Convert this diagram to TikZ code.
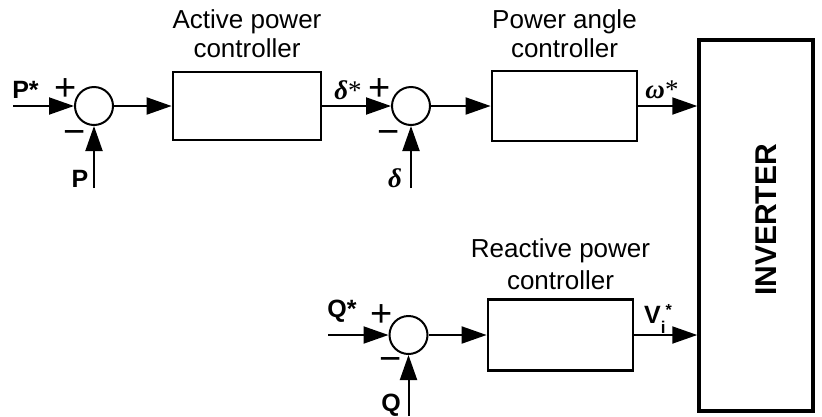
\documentclass[tikz,border=0pt]{standalone}
\usepackage{fontspec}
\setmainfont{Liberation Sans}
\newfontfamily\grk{Liberation Serif}
\usetikzlibrary{arrows.meta}
\begin{document}
\begin{tikzpicture}[x=1pt,y=-1pt,
  blk/.style={draw,line width=2.8pt,inner sep=0pt},
  sumj/.style={draw,circle,line width=2pt,minimum size=38pt,inner sep=0pt},
  conn/.style={line width=2pt,-{Triangle[length=25pt,width=17pt]}},
  lbl/.style={font=\fontsize{26}{26}\selectfont,anchor=base,inner sep=0pt},
  sig/.style={font=\fontsize{25}{25}\selectfont\bfseries,inner sep=0pt},
  grs/.style={font=\fontsize{27}{27}\selectfont\grk\bfseries\itshape,inner sep=0pt},
  pm/.style={font=\fontsize{38}{38}\selectfont,inner sep=0pt}]
\useasboundingbox (0,0) rectangle (822,416);
% blocks
\node[sumj] (s1) at (94,106) {};
\node[blk,minimum width=148pt,minimum height=68pt] (b1) at (247,106) {};
\node[sumj] (s2) at (411,106) {};
\node[blk,minimum width=145pt,minimum height=70pt] (b2) at (564.5,106) {};
\node[draw,line width=3.5pt,minimum width=114pt,minimum height=371pt,inner sep=0pt] (inv) at (756,225.5) {};
\node[font=\fontsize{30}{30}\selectfont\bfseries,rotate=90] (invt) at (766,220) {INVERTER};
\node[sumj] (s3) at (408.5,335) {};
\node[blk,minimum width=145pt,minimum height=71pt] (b3) at (560.5,335) {};
% free ends
\coordinate (pin) at (13,106);
\coordinate (pfb) at (94,188);
\coordinate (dfb) at (411,188);
\coordinate (qin) at (328,335);
\coordinate (qfb) at (408.5,416);
% connectors
\draw[conn] (pin) -- (s1);
\draw[conn] (pfb) -- (s1);
\draw[conn] (s1) -- (b1);
\draw[conn] (b1) -- (s2);
\draw[conn] (dfb) -- (s2);
\draw[conn] (s2) -- (b2);
\draw[conn] (b2) -- (b2 -| inv.west);
\draw[conn] (qin) -- (s3);
\draw[conn] (qfb) -- (s3);
\draw[conn] (s3) -- (b3);
\draw[conn] (b3) -- (b3 -| inv.west);
% block titles
\node[lbl] (t1a) at (247,28) {Active power};
\node[lbl] (t1b) at (247,57) {controller};
\node[lbl] (t2a) at (564.5,28) {Power angle};
\node[lbl] (t2b) at (564.5,57) {controller};
\node[lbl] (t3a) at (560.5,257) {Reactive power};
\node[lbl] (t3b) at (560.5,289) {controller};
% signal labels
\node[sig] (lps) at (25.5,90) {P*};
\node[pm] (p1) at (66,90) {+};
\node[pm] (m1) at (75,137) {−};
\node[sig] (lp) at (80,179) {P};
\node[grs] (lds) at (348,90) {δ{\normalfont\grk *}};
\node[pm] (p2) at (380,90) {+};
\node[pm] (m2) at (389,137) {−};
\node[grs] (ld) at (395,178) {δ};
\node[grs] (lws) at (662,90) {ω{\normalfont\grk *}};
\node[sig] (lqs) at (342,311) {Q*};
\node[pm] (p3) at (382,316) {+};
\node[pm] (m3) at (391,364) {−};
\node[sig] (lq) at (391,405) {Q};
\node[sig,anchor=base west] (lvi) at (644,323) {V\raisebox{-10pt}{\fontsize{17}{17}\selectfont i}\raisebox{8pt}{\fontsize{16}{16}\selectfont *}};
\end{tikzpicture}
\end{document}
